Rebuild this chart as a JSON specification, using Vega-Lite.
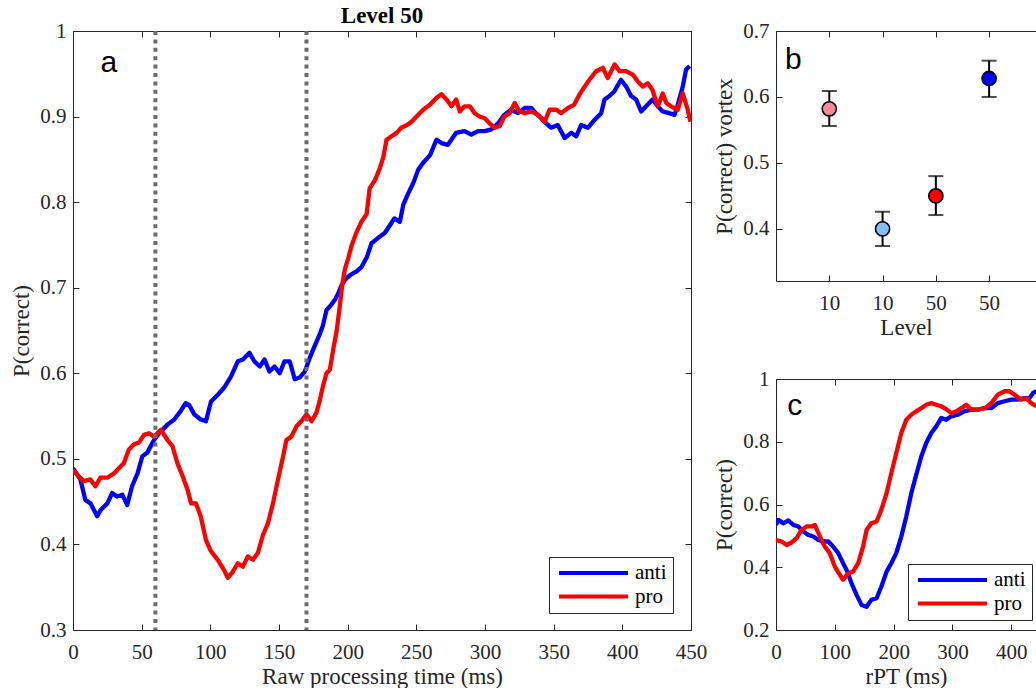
{
  "$schema": "https://vega.github.io/schema/vega-lite/v6.json",
  "background": "white",
  "padding": {"left": 10, "top": 5, "right": 0, "bottom": 0},
  "config": {
    "view": {"stroke": null},
    "axis": {
      "labelFont": "Liberation Serif", "labelFontSize": 21, "titleFont": "Liberation Serif", "titleFontSize": 23,
      "titleFontWeight": "normal", "labelColor": "#262626", "titleColor": "#262626", "domainColor": "#262626",
      "tickColor": "#262626", "tickSize": -6, "grid": false, "labelPadding": 13, "domainWidth": 1, "tickWidth": 1,
      "labelFlush": false, "labelOverlap": false
    },
    "axisX": {"labelPadding": 17, "titlePadding": 3},
    "axisY": {"titlePadding": 6},
    "legend": {
      "orient": "none", "title": null, "symbolType": "stroke", "symbolSize": 4761, "symbolStrokeWidth": 4,
      "clipHeight": 20, "labelFont": "Liberation Serif", "labelFontSize": 21, "labelColor": "#000000",
      "padding": 6, "rowPadding": 2.5, "labelOffset": 5, "symbolOffset": 2,
      "strokeColor": "#262626", "fillColor": "white", "cornerRadius": 0
    }
  },
  "datasets": {
    "a": [
      {"t":0,"p":0.489,"s":"anti"},{"t":5.4,"p":0.476,"s":"anti"},{"t":9,"p":0.452,"s":"anti"},{"t":12.7,"p":0.448,"s":"anti"},{"t":17.6,"p":0.433,"s":"anti"},{"t":20,"p":0.44,"s":"anti"},{"t":25,"p":0.448,"s":"anti"},{"t":28.5,"p":0.46,"s":"anti"},{"t":32,"p":0.456,"s":"anti"},{"t":36,"p":0.458,"s":"anti"},{"t":39.5,"p":0.446,"s":"anti"},{"t":43,"p":0.468,"s":"anti"},{"t":47,"p":0.483,"s":"anti"},{"t":50.5,"p":0.503,"s":"anti"},{"t":54,"p":0.507,"s":"anti"},{"t":59,"p":0.522,"s":"anti"},{"t":62.7,"p":0.53,"s":"anti"},{"t":68.8,"p":0.54,"s":"anti"},{"t":73.7,"p":0.546,"s":"anti"},{"t":78.5,"p":0.556,"s":"anti"},{"t":82,"p":0.565,"s":"anti"},{"t":84.6,"p":0.563,"s":"anti"},{"t":88.3,"p":0.552,"s":"anti"},{"t":93,"p":0.546,"s":"anti"},{"t":96.8,"p":0.544,"s":"anti"},{"t":100.5,"p":0.567,"s":"anti"},{"t":105.4,"p":0.575,"s":"anti"},{"t":110,"p":0.583,"s":"anti"},{"t":115,"p":0.596,"s":"anti"},{"t":120,"p":0.614,"s":"anti"},{"t":123.7,"p":0.616,"s":"anti"},{"t":128.5,"p":0.624,"s":"anti"},{"t":132,"p":0.614,"s":"anti"},{"t":136,"p":0.608,"s":"anti"},{"t":139.5,"p":0.616,"s":"anti"},{"t":143,"p":0.602,"s":"anti"},{"t":146.8,"p":0.608,"s":"anti"},{"t":150.5,"p":0.6,"s":"anti"},{"t":154,"p":0.614,"s":"anti"},{"t":157.8,"p":0.614,"s":"anti"},{"t":161.5,"p":0.593,"s":"anti"},{"t":165,"p":0.595,"s":"anti"},{"t":168.8,"p":0.602,"s":"anti"},{"t":172.4,"p":0.618,"s":"anti"},{"t":176,"p":0.632,"s":"anti"},{"t":180,"p":0.647,"s":"anti"},{"t":182,"p":0.656,"s":"anti"},{"t":184.6,"p":0.674,"s":"anti"},{"t":188,"p":0.68,"s":"anti"},{"t":190.7,"p":0.686,"s":"anti"},{"t":193,"p":0.693,"s":"anti"},{"t":195.6,"p":0.703,"s":"anti"},{"t":198,"p":0.709,"s":"anti"},{"t":200.5,"p":0.713,"s":"anti"},{"t":203,"p":0.716,"s":"anti"},{"t":206.5,"p":0.719,"s":"anti"},{"t":210,"p":0.724,"s":"anti"},{"t":214,"p":0.736,"s":"anti"},{"t":217.4,"p":0.752,"s":"anti"},{"t":222,"p":0.758,"s":"anti"},{"t":227,"p":0.764,"s":"anti"},{"t":230.8,"p":0.773,"s":"anti"},{"t":234,"p":0.781,"s":"anti"},{"t":238,"p":0.777,"s":"anti"},{"t":240.5,"p":0.797,"s":"anti"},{"t":244,"p":0.81,"s":"anti"},{"t":247.7,"p":0.822,"s":"anti"},{"t":251.4,"p":0.838,"s":"anti"},{"t":255,"p":0.846,"s":"anti"},{"t":260,"p":0.855,"s":"anti"},{"t":264.7,"p":0.873,"s":"anti"},{"t":268.3,"p":0.869,"s":"anti"},{"t":273,"p":0.867,"s":"anti"},{"t":279,"p":0.881,"s":"anti"},{"t":285,"p":0.883,"s":"anti"},{"t":290,"p":0.879,"s":"anti"},{"t":295,"p":0.883,"s":"anti"},{"t":299.8,"p":0.883,"s":"anti"},{"t":304.7,"p":0.885,"s":"anti"},{"t":309.5,"p":0.892,"s":"anti"},{"t":314,"p":0.902,"s":"anti"},{"t":319,"p":0.908,"s":"anti"},{"t":324,"p":0.904,"s":"anti"},{"t":329,"p":0.91,"s":"anti"},{"t":333.7,"p":0.91,"s":"anti"},{"t":337,"p":0.904,"s":"anti"},{"t":341,"p":0.898,"s":"anti"},{"t":344.6,"p":0.892,"s":"anti"},{"t":348,"p":0.887,"s":"anti"},{"t":353,"p":0.89,"s":"anti"},{"t":358,"p":0.875,"s":"anti"},{"t":362.8,"p":0.881,"s":"anti"},{"t":366.4,"p":0.877,"s":"anti"},{"t":370,"p":0.89,"s":"anti"},{"t":375,"p":0.887,"s":"anti"},{"t":379.7,"p":0.896,"s":"anti"},{"t":384.6,"p":0.904,"s":"anti"},{"t":387,"p":0.92,"s":"anti"},{"t":390.6,"p":0.924,"s":"anti"},{"t":394,"p":0.929,"s":"anti"},{"t":399,"p":0.943,"s":"anti"},{"t":402.8,"p":0.935,"s":"anti"},{"t":406.4,"p":0.924,"s":"anti"},{"t":410,"p":0.92,"s":"anti"},{"t":413.7,"p":0.906,"s":"anti"},{"t":417.3,"p":0.912,"s":"anti"},{"t":422,"p":0.92,"s":"anti"},{"t":425.8,"p":0.912,"s":"anti"},{"t":429.4,"p":0.906,"s":"anti"},{"t":434,"p":0.904,"s":"anti"},{"t":438,"p":0.902,"s":"anti"},{"t":440,"p":0.912,"s":"anti"},{"t":444,"p":0.935,"s":"anti"},{"t":446.4,"p":0.955,"s":"anti"},{"t":449,"p":0.959,"s":"anti"},
      {"t":0,"p":0.487,"s":"pro"},{"t":4,"p":0.48,"s":"pro"},{"t":7.8,"p":0.474,"s":"pro"},{"t":12.7,"p":0.476,"s":"pro"},{"t":16.3,"p":0.468,"s":"pro"},{"t":20,"p":0.478,"s":"pro"},{"t":25,"p":0.478,"s":"pro"},{"t":29.8,"p":0.483,"s":"pro"},{"t":33.4,"p":0.489,"s":"pro"},{"t":37,"p":0.495,"s":"pro"},{"t":40.7,"p":0.511,"s":"pro"},{"t":44.4,"p":0.517,"s":"pro"},{"t":48,"p":0.519,"s":"pro"},{"t":51.7,"p":0.528,"s":"pro"},{"t":55.4,"p":0.53,"s":"pro"},{"t":59,"p":0.526,"s":"pro"},{"t":64,"p":0.534,"s":"pro"},{"t":68.8,"p":0.522,"s":"pro"},{"t":72.4,"p":0.515,"s":"pro"},{"t":76,"p":0.495,"s":"pro"},{"t":79.8,"p":0.48,"s":"pro"},{"t":83.4,"p":0.464,"s":"pro"},{"t":86,"p":0.448,"s":"pro"},{"t":89.5,"p":0.448,"s":"pro"},{"t":93,"p":0.433,"s":"pro"},{"t":96.8,"p":0.405,"s":"pro"},{"t":100.5,"p":0.392,"s":"pro"},{"t":105.4,"p":0.382,"s":"pro"},{"t":110,"p":0.37,"s":"pro"},{"t":112.7,"p":0.361,"s":"pro"},{"t":116.3,"p":0.368,"s":"pro"},{"t":120,"p":0.378,"s":"pro"},{"t":123.7,"p":0.374,"s":"pro"},{"t":127.3,"p":0.386,"s":"pro"},{"t":131,"p":0.382,"s":"pro"},{"t":134.6,"p":0.39,"s":"pro"},{"t":138.3,"p":0.411,"s":"pro"},{"t":142,"p":0.425,"s":"pro"},{"t":145.6,"p":0.448,"s":"pro"},{"t":149.3,"p":0.476,"s":"pro"},{"t":153,"p":0.503,"s":"pro"},{"t":155.4,"p":0.522,"s":"pro"},{"t":159,"p":0.526,"s":"pro"},{"t":162.7,"p":0.538,"s":"pro"},{"t":166.3,"p":0.544,"s":"pro"},{"t":170,"p":0.552,"s":"pro"},{"t":173.7,"p":0.544,"s":"pro"},{"t":177.3,"p":0.554,"s":"pro"},{"t":179.8,"p":0.569,"s":"pro"},{"t":182,"p":0.585,"s":"pro"},{"t":184.6,"p":0.6,"s":"pro"},{"t":187,"p":0.604,"s":"pro"},{"t":189.5,"p":0.628,"s":"pro"},{"t":192,"p":0.65,"s":"pro"},{"t":194,"p":0.675,"s":"pro"},{"t":196,"p":0.703,"s":"pro"},{"t":198,"p":0.722,"s":"pro"},{"t":200.5,"p":0.735,"s":"pro"},{"t":203,"p":0.75,"s":"pro"},{"t":206.5,"p":0.765,"s":"pro"},{"t":210,"p":0.777,"s":"pro"},{"t":213.8,"p":0.786,"s":"pro"},{"t":216,"p":0.816,"s":"pro"},{"t":220,"p":0.826,"s":"pro"},{"t":223.5,"p":0.84,"s":"pro"},{"t":226,"p":0.853,"s":"pro"},{"t":228.3,"p":0.873,"s":"pro"},{"t":232,"p":0.877,"s":"pro"},{"t":235.6,"p":0.881,"s":"pro"},{"t":239,"p":0.887,"s":"pro"},{"t":243,"p":0.89,"s":"pro"},{"t":246.5,"p":0.894,"s":"pro"},{"t":251.4,"p":0.902,"s":"pro"},{"t":255,"p":0.908,"s":"pro"},{"t":260,"p":0.914,"s":"pro"},{"t":264.7,"p":0.922,"s":"pro"},{"t":268.3,"p":0.926,"s":"pro"},{"t":272,"p":0.92,"s":"pro"},{"t":275.6,"p":0.912,"s":"pro"},{"t":279,"p":0.92,"s":"pro"},{"t":281.6,"p":0.906,"s":"pro"},{"t":285,"p":0.912,"s":"pro"},{"t":289,"p":0.912,"s":"pro"},{"t":292.5,"p":0.904,"s":"pro"},{"t":296,"p":0.9,"s":"pro"},{"t":299.8,"p":0.898,"s":"pro"},{"t":303.4,"p":0.892,"s":"pro"},{"t":307,"p":0.887,"s":"pro"},{"t":310.7,"p":0.889,"s":"pro"},{"t":314,"p":0.9,"s":"pro"},{"t":318,"p":0.904,"s":"pro"},{"t":321.6,"p":0.916,"s":"pro"},{"t":325,"p":0.906,"s":"pro"},{"t":329,"p":0.904,"s":"pro"},{"t":333.7,"p":0.906,"s":"pro"},{"t":338.6,"p":0.902,"s":"pro"},{"t":343.4,"p":0.894,"s":"pro"},{"t":347,"p":0.908,"s":"pro"},{"t":352,"p":0.908,"s":"pro"},{"t":355.5,"p":0.904,"s":"pro"},{"t":360.4,"p":0.91,"s":"pro"},{"t":365,"p":0.914,"s":"pro"},{"t":368.9,"p":0.926,"s":"pro"},{"t":372.5,"p":0.935,"s":"pro"},{"t":376,"p":0.943,"s":"pro"},{"t":381,"p":0.953,"s":"pro"},{"t":385.8,"p":0.957,"s":"pro"},{"t":389.4,"p":0.945,"s":"pro"},{"t":394.3,"p":0.961,"s":"pro"},{"t":398,"p":0.953,"s":"pro"},{"t":402.8,"p":0.953,"s":"pro"},{"t":407.6,"p":0.949,"s":"pro"},{"t":411.3,"p":0.941,"s":"pro"},{"t":415,"p":0.935,"s":"pro"},{"t":418.5,"p":0.939,"s":"pro"},{"t":422,"p":0.931,"s":"pro"},{"t":425.8,"p":0.912,"s":"pro"},{"t":429.4,"p":0.927,"s":"pro"},{"t":432,"p":0.916,"s":"pro"},{"t":435.5,"p":0.912,"s":"pro"},{"t":440.3,"p":0.908,"s":"pro"},{"t":444,"p":0.927,"s":"pro"},{"t":447.6,"p":0.908,"s":"pro"},{"t":449.6,"p":0.894,"s":"pro"}
    ],
    "vlines": [{"t": 60}, {"t": 170}],
    "b": [
      {"pos": 1, "cond": "pro10", "v": 0.582, "lo": 0.556, "hi": 0.609},
      {"pos": 2, "cond": "anti10", "v": 0.4, "lo": 0.374, "hi": 0.426},
      {"pos": 3, "cond": "pro50", "v": 0.45, "lo": 0.421, "hi": 0.48},
      {"pos": 4, "cond": "anti50", "v": 0.628, "lo": 0.6, "hi": 0.655}
    ],
    "c": [
      {"t":0,"p":0.535,"s":"anti"},{"t":4,"p":0.551,"s":"anti"},{"t":12.4,"p":0.54,"s":"anti"},{"t":21,"p":0.549,"s":"anti"},{"t":29.4,"p":0.535,"s":"anti"},{"t":38,"p":0.53,"s":"anti"},{"t":46.4,"p":0.514,"s":"anti"},{"t":55,"p":0.503,"s":"anti"},{"t":63.4,"p":0.498,"s":"anti"},{"t":72,"p":0.487,"s":"anti"},{"t":80.3,"p":0.482,"s":"anti"},{"t":89,"p":0.482,"s":"anti"},{"t":97,"p":0.466,"s":"anti"},{"t":105.8,"p":0.445,"s":"anti"},{"t":114,"p":0.413,"s":"anti"},{"t":120,"p":0.391,"s":"anti"},{"t":128.4,"p":0.349,"s":"anti"},{"t":137,"p":0.312,"s":"anti"},{"t":145.4,"p":0.28,"s":"anti"},{"t":154,"p":0.274,"s":"anti"},{"t":162,"p":0.296,"s":"anti"},{"t":171,"p":0.301,"s":"anti"},{"t":179,"p":0.338,"s":"anti"},{"t":188,"p":0.386,"s":"anti"},{"t":196,"p":0.413,"s":"anti"},{"t":204.5,"p":0.445,"s":"anti"},{"t":213,"p":0.498,"s":"anti"},{"t":221.5,"p":0.562,"s":"anti"},{"t":230,"p":0.636,"s":"anti"},{"t":238.4,"p":0.695,"s":"anti"},{"t":247,"p":0.753,"s":"anti"},{"t":255.4,"p":0.796,"s":"anti"},{"t":264,"p":0.828,"s":"anti"},{"t":272.5,"p":0.849,"s":"anti"},{"t":281,"p":0.876,"s":"anti"},{"t":289.4,"p":0.87,"s":"anti"},{"t":298,"p":0.881,"s":"anti"},{"t":309,"p":0.886,"s":"anti"},{"t":320,"p":0.897,"s":"anti"},{"t":331.6,"p":0.902,"s":"anti"},{"t":343,"p":0.902,"s":"anti"},{"t":354,"p":0.907,"s":"anti"},{"t":365.5,"p":0.907,"s":"anti"},{"t":377,"p":0.923,"s":"anti"},{"t":388.7,"p":0.929,"s":"anti"},{"t":400,"p":0.934,"s":"anti"},{"t":411,"p":0.934,"s":"anti"},{"t":422.6,"p":0.939,"s":"anti"},{"t":431,"p":0.939,"s":"anti"},{"t":436.7,"p":0.955,"s":"anti"},{"t":442.4,"p":0.961,"s":"anti"},
      {"t":0,"p":0.487,"s":"pro"},{"t":9.6,"p":0.482,"s":"pro"},{"t":18,"p":0.471,"s":"pro"},{"t":26.6,"p":0.479,"s":"pro"},{"t":35,"p":0.493,"s":"pro"},{"t":43.5,"p":0.519,"s":"pro"},{"t":52,"p":0.53,"s":"pro"},{"t":60.5,"p":0.53,"s":"pro"},{"t":66,"p":0.535,"s":"pro"},{"t":74.6,"p":0.498,"s":"pro"},{"t":83,"p":0.466,"s":"pro"},{"t":91.5,"p":0.445,"s":"pro"},{"t":100,"p":0.402,"s":"pro"},{"t":108.5,"p":0.376,"s":"pro"},{"t":114,"p":0.36,"s":"pro"},{"t":122.6,"p":0.381,"s":"pro"},{"t":131,"p":0.386,"s":"pro"},{"t":139.7,"p":0.413,"s":"pro"},{"t":148,"p":0.466,"s":"pro"},{"t":154,"p":0.519,"s":"pro"},{"t":162,"p":0.54,"s":"pro"},{"t":171,"p":0.546,"s":"pro"},{"t":179,"p":0.583,"s":"pro"},{"t":188,"p":0.636,"s":"pro"},{"t":196,"p":0.7,"s":"pro"},{"t":204.5,"p":0.764,"s":"pro"},{"t":213,"p":0.828,"s":"pro"},{"t":221.5,"p":0.87,"s":"pro"},{"t":230,"p":0.886,"s":"pro"},{"t":238.4,"p":0.897,"s":"pro"},{"t":247,"p":0.907,"s":"pro"},{"t":255.4,"p":0.918,"s":"pro"},{"t":264,"p":0.923,"s":"pro"},{"t":272.5,"p":0.918,"s":"pro"},{"t":281,"p":0.913,"s":"pro"},{"t":289.4,"p":0.904,"s":"pro"},{"t":298,"p":0.891,"s":"pro"},{"t":306.6,"p":0.897,"s":"pro"},{"t":315,"p":0.907,"s":"pro"},{"t":323.6,"p":0.918,"s":"pro"},{"t":332,"p":0.902,"s":"pro"},{"t":343,"p":0.902,"s":"pro"},{"t":354.7,"p":0.907,"s":"pro"},{"t":366,"p":0.923,"s":"pro"},{"t":377,"p":0.95,"s":"pro"},{"t":388.7,"p":0.961,"s":"pro"},{"t":397,"p":0.961,"s":"pro"},{"t":405.6,"p":0.95,"s":"pro"},{"t":417,"p":0.934,"s":"pro"},{"t":425.5,"p":0.939,"s":"pro"},{"t":434,"p":0.923,"s":"pro"},{"t":442.4,"p":0.913,"s":"pro"}
    ]
  },
  "hconcat": [
    {
      "width": 618,
      "height": 599,
      "title": {"text": "Level 50", "font": "Liberation Serif", "fontSize": 23, "fontWeight": "bold", "color": "#000000", "anchor": "middle", "frame": "group", "offset": -8},
      "resolve": {"axis": {"x": "independent", "y": "independent"}},
      "layer": [
        {
          "data": {"name": "a"},
          "mark": {"type": "line", "strokeWidth": 4.3, "strokeJoin": "round", "clip": true},
          "encoding": {
            "x": {"field": "t", "type": "quantitative", "scale": {"domain": [0, 450], "nice": false, "zero": false},
                  "axis": {"orient": "bottom", "title": "Raw processing time (ms)", "values": [0, 50, 100, 150, 200, 250, 300, 350, 400, 450]}},
            "y": {"field": "p", "type": "quantitative", "scale": {"domain": [0.3, 1], "nice": false, "zero": false},
                  "axis": {"orient": "left", "title": "P(correct)", "values": [0.3, 0.4, 0.5, 0.6, 0.7, 0.8, 0.9, 1], "format": ".1~f"}},
            "color": {"field": "s", "type": "nominal", "scale": {"domain": ["anti", "pro"], "range": ["#0000ff", "#ff0000"]},
                      "legend": {"legendX": 476, "legendY": 526}}
          }
        },
        {
          "data": {"name": "vlines"},
          "mark": {"type": "rule", "color": "#6b6b6b", "strokeWidth": 4, "strokeDash": [4, 4.4]},
          "encoding": {
            "x": {"field": "t", "type": "quantitative",
                  "axis": {"orient": "top", "labels": false, "title": null, "values": [0, 50, 100, 150, 200, 250, 300, 350, 400, 450]}}
          }
        },
        {
          "data": {"values": [{"label": "a"}]},
          "mark": {"type": "text", "font": "Liberation Sans", "fontSize": 30, "align": "left", "baseline": "alphabetic", "color": "#000000"},
          "encoding": {
            "text": {"field": "label"},
            "x": {"datum": 20, "axis": null},
            "y": {"datum": 0.952, "axis": {"orient": "right", "labels": false, "title": null, "values": [0.3, 0.4, 0.5, 0.6, 0.7, 0.8, 0.9, 1]}}
          }
        }
      ]
    },
    {
      "vconcat": [
        {
          "width": 260,
          "height": 250,
          "data": {"name": "b"},
          "resolve": {"axis": {"x": "independent", "y": "independent"}},
          "layer": [
            {
              "mark": {"type": "rule", "color": "#000000", "strokeWidth": 2},
              "encoding": {
                "x": {"field": "pos", "type": "quantitative", "scale": {"domain": [0, 4.88], "nice": false, "zero": false},
                      "axis": {"orient": "bottom", "title": "Level", "values": [1, 2, 3, 4], "labelExpr": "datum.value < 2.5 ? '10' : '50'"}},
                "y": {"field": "lo", "type": "quantitative", "scale": {"domain": [0.321, 0.7], "nice": false, "zero": false},
                      "axis": {"orient": "left", "title": "P(correct) vortex", "values": [0.4, 0.5, 0.6, 0.7], "format": ".1~f"}},
                "y2": {"field": "hi"}
              }
            },
            {
              "mark": {"type": "tick", "orient": "horizontal", "color": "#000000", "size": 15, "thickness": 2},
              "encoding": {
                "x": {"field": "pos", "type": "quantitative", "axis": {"orient": "top", "labels": false, "title": null, "values": [1, 2, 3, 4]}},
                "y": {"field": "lo", "type": "quantitative", "axis": null}
              }
            },
            {
              "mark": {"type": "tick", "orient": "horizontal", "color": "#000000", "size": 15, "thickness": 2},
              "encoding": {
                "x": {"field": "pos", "type": "quantitative", "axis": null},
                "y": {"field": "hi", "type": "quantitative", "axis": null}
              }
            },
            {
              "mark": {"type": "point", "shape": "circle", "filled": true, "size": 200, "stroke": "#000000", "strokeWidth": 1.6, "opacity": 1},
              "encoding": {
                "x": {"field": "pos", "type": "quantitative", "axis": null},
                "y": {"field": "v", "type": "quantitative", "axis": null},
                "fill": {"field": "cond", "type": "nominal", "legend": null,
                         "scale": {"domain": ["pro10", "anti10", "pro50", "anti50"], "range": ["#f3899a", "#85bdf7", "#ff0000", "#0000ff"]}}
              }
            },
            {
              "data": {"values": [{"label": "b"}]},
              "mark": {"type": "text", "font": "Liberation Sans", "fontSize": 30, "align": "left", "baseline": "alphabetic", "color": "#000000"},
              "encoding": {
                "text": {"field": "label"},
                "x": {"datum": 0.17, "axis": null},
                "y": {"datum": 0.643, "axis": null}
              }
            }
          ]
        },
        {
          "width": 260,
          "height": 251,
          "resolve": {"axis": {"x": "independent", "y": "independent"}},
          "layer": [
            {
              "data": {"name": "c"},
              "mark": {"type": "line", "strokeWidth": 4.3, "strokeJoin": "round", "clip": true},
              "encoding": {
                "x": {"field": "t", "type": "quantitative", "scale": {"domain": [0, 442], "nice": false, "zero": false},
                      "axis": {"orient": "bottom", "title": "rPT (ms)", "values": [0, 100, 200, 300, 400]}},
                "y": {"field": "p", "type": "quantitative", "scale": {"domain": [0.2, 1], "nice": false, "zero": false},
                      "axis": {"orient": "left", "title": "P(correct)", "values": [0.2, 0.4, 0.6, 0.8, 1], "format": ".1~f"}},
                "color": {"field": "s", "type": "nominal", "scale": {"domain": ["anti", "pro"], "range": ["#0000ff", "#ff0000"]},
                          "legend": {"legendX": 132, "legendY": 185}}
              }
            },
            {
              "data": {"values": [{"label": "c"}]},
              "mark": {"type": "text", "font": "Liberation Sans", "fontSize": 30, "align": "left", "baseline": "alphabetic", "color": "#000000"},
              "encoding": {
                "text": {"field": "label"},
                "x": {"datum": 19, "axis": {"orient": "top", "labels": false, "title": null, "values": [0, 100, 200, 300, 400]}},
                "y": {"datum": 0.886, "axis": null}
              }
            }
          ]
        }
      ],
      "spacing": 98,
      "bounds": "flush",
      "resolve": {"scale": {"color": "independent"}, "legend": {"color": "independent"}}
    }
  ],
  "spacing": 85,
  "bounds": "flush",
  "resolve": {"scale": {"color": "independent"}, "legend": {"color": "independent"}}
}
